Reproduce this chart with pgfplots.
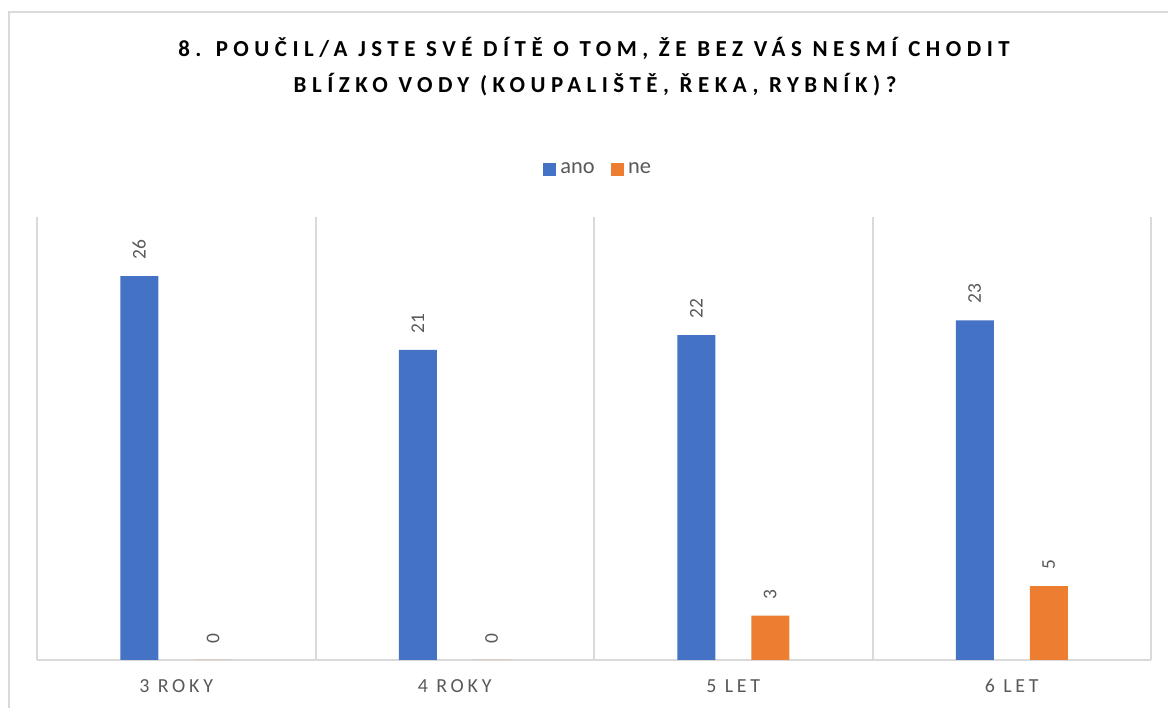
\documentclass[border=0pt]{standalone}
\usepackage{pgfplots}
\pgfplotsset{compat=1.18}
\usepackage{fontspec}
\setmainfont{Carlito}
\newfontfamily\titlefont[LetterSpace=24]{Carlito}
\newfontfamily\tickfont[LetterSpace=19]{Carlito}
\definecolor{cblue}{HTML}{4472C4}
\definecolor{corange}{HTML}{ED7D31}
\definecolor{txtgray}{HTML}{595959}
\definecolor{gridgray}{HTML}{D9D9D9}
\begin{document}
\begin{tikzpicture}[x=1bp,y=1bp]
\path[use as bounding box] (0,0) rectangle (1168,708);
\draw[gridgray, line width=2bp] (9,0) -- (9,696) -- (1168,696);
\node[font=\titlefont\bfseries\fontsize{23}{25}\selectfont, text=black] at (594,660) {8. POUČIL/A JSTE SVÉ DÍTĚ O TOM, ŽE BEZ VÁS NESMÍ CHODIT};
\node[font=\titlefont\bfseries\fontsize{23}{25}\selectfont, text=black] at (595,623) {BLÍZKO VODY (KOUPALIŠTĚ, ŘEKA, RYBNÍK)?};
\begin{axis}[
  at={(176.25bp,48bp)}, anchor=origin,
  scale only axis, width=1114bp, height=443bp,
  xmin=-0.5, xmax=3.5, ymin=0, ymax=30,
  ybar=36bp, bar width=38bp,
  xtick={0,1,2,3},
  xticklabels={3 ROKY,4 ROKY,5 LET,6 LET},
  minor xtick={-0.5,0.5,1.5,2.5,3.5},
  xminorgrids, minor grid style={gridgray, line width=2bp},
  major tick length=0pt, minor tick length=0pt,
  axis x line*=bottom, axis y line=none,
  x axis line style={gridgray, line width=2bp, -},
  ytick=\empty,
  /pgf/number format/assume math mode=true,
  xticklabel style={font=\tickfont\fontsize{20}{22}\selectfont, text=txtgray, yshift=-16bp},
  nodes near coords,
  every node near coord/.append style={rotate=90, anchor=west, font=\fontsize{19.5}{21}\selectfont, text=txtgray, xshift=13bp},
  legend style={at={(0.5036,1.108)}, anchor=center, draw=none, legend columns=2, font=\fontsize{22.5}{24}\selectfont, text=txtgray, /tikz/every even column/.append style={column sep=14bp}},
  legend image code/.code={\fill[#1] (0bp,-6.5bp) rectangle (13bp,6.5bp);},
  clip=false,
]
\addplot[fill=cblue, draw=none] coordinates {(0,26) (1,21) (2,22) (3,23)};
\addplot[fill=corange, draw=none] coordinates {(0,0) (1,0) (2,3) (3,5)};
\legend{\hspace{2.5bp}ano,\hspace{2.5bp}ne}
\end{axis}
\end{tikzpicture}
\end{document}
